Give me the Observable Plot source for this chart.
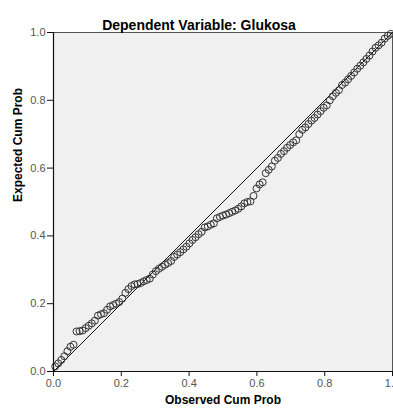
<!DOCTYPE html>
<html>
<head>
<meta charset="utf-8">
<script src="https://cdn.jsdelivr.net/npm/d3@7"></script>
<script src="https://cdn.jsdelivr.net/npm/@observablehq/plot@0.6"></script>
<style>
  html, body { margin: 0; padding: 0; background: #fff; }
  #chart svg { display: block; font-family: "Liberation Sans", Arial, sans-serif; }
</style>
</head>
<body>
<div id="chart"></div>
<script>
const titleText = "Dependent Variable: Glukosa";
const xLabel = "Observed Cum Prob";
const yLabel = "Expected Cum Prob";
const tickValues = [0, 0.2, 0.4, 0.6, 0.8, 1.0];

const observed = [0.005,0.014,0.023,0.032,0.041,0.050,0.059,0.068,0.077,0.086,0.095,0.104,0.113,0.122,0.131,0.140,0.149,0.158,0.167,0.176,0.185,0.194,0.203,0.212,0.221,0.230,0.239,0.248,0.257,0.266,0.275,0.284,0.293,0.302,0.311,0.320,0.329,0.338,0.347,0.356,0.365,0.374,0.383,0.392,0.401,0.410,0.419,0.428,0.437,0.446,0.455,0.464,0.473,0.482,0.491,0.500,0.509,0.518,0.527,0.536,0.545,0.554,0.563,0.572,0.581,0.590,0.599,0.608,0.617,0.626,0.635,0.644,0.653,0.662,0.671,0.680,0.689,0.698,0.707,0.716,0.725,0.734,0.743,0.752,0.761,0.770,0.779,0.788,0.797,0.806,0.815,0.824,0.833,0.842,0.851,0.860,0.869,0.878,0.887,0.896,0.905,0.914,0.923,0.932,0.941,0.950,0.959,0.968,0.977,0.986,0.995];
const expected = [0.015,0.024,0.034,0.045,0.060,0.073,0.079,0.118,0.119,0.121,0.128,0.135,0.142,0.150,0.165,0.169,0.172,0.182,0.192,0.196,0.200,0.205,0.215,0.232,0.243,0.252,0.257,0.258,0.261,0.266,0.270,0.274,0.286,0.296,0.303,0.309,0.315,0.320,0.326,0.338,0.345,0.352,0.360,0.368,0.378,0.388,0.396,0.405,0.412,0.425,0.428,0.433,0.437,0.452,0.456,0.460,0.463,0.467,0.471,0.475,0.480,0.487,0.496,0.500,0.502,0.518,0.540,0.552,0.558,0.585,0.595,0.605,0.622,0.630,0.642,0.650,0.660,0.668,0.676,0.682,0.700,0.713,0.720,0.730,0.740,0.748,0.758,0.768,0.778,0.785,0.800,0.812,0.822,0.830,0.845,0.852,0.862,0.872,0.882,0.893,0.902,0.912,0.922,0.932,0.944,0.955,0.962,0.970,0.982,0.990,0.996];

const refLine = [[0, 0], [1, 1]];

const data = observed.map((o, i) => ({observed: o, expected: expected[i]}));

const chart = Plot.plot({
  width: 393,
  height: 410,
  marginTop: 32,
  marginBottom: 39,
  marginLeft: 53,
  marginRight: 1,
  style: {background: "#fff", fontFamily: "Liberation Sans, Arial, sans-serif"},
  x: {domain: [0, 1]},
  y: {domain: [0, 1]},
  marks: [
    Plot.frame({fill: "#f0f0f0", stroke: "#555", strokeWidth: 1}),
    Plot.line(refLine, {x: d => d[0], y: d => d[1], stroke: "#111", strokeWidth: 1}),
    Plot.dot(data, {x: "observed", y: "expected", r: 3.5, stroke: "#333", strokeWidth: 1, fill: "none"}),
    Plot.ruleX([0], {stroke: "#111", strokeWidth: 1.2}),
    Plot.ruleY([0], {stroke: "#111", strokeWidth: 1.2}),
    Plot.axisX({ticks: tickValues, tickFormat: d3.format(".1f"), tickSize: 5, tickPadding: 3, fontSize: 11, color: "#555", stroke: "#111", label: null}),
    Plot.axisY({ticks: tickValues, tickFormat: d3.format(".1f"), tickSize: 6, tickPadding: 2, fontSize: 11, color: "#555", stroke: "#111", label: null}),
    Plot.text([titleText], {frameAnchor: "top", dy: -12, dx: -24, fontSize: 14, fontWeight: "bold", fill: "#000", text: d => d}),
    Plot.text([xLabel], {frameAnchor: "bottom", dy: 32, fontSize: 12, fontWeight: "bold", fill: "#000", text: d => d}),
    Plot.text([yLabel], {frameAnchor: "left", dx: -35, rotate: -90, fontSize: 12, fontWeight: "bold", fill: "#000", text: d => d})
  ]
});
document.getElementById("chart").appendChild(chart);
</script>
</body>
</html>
